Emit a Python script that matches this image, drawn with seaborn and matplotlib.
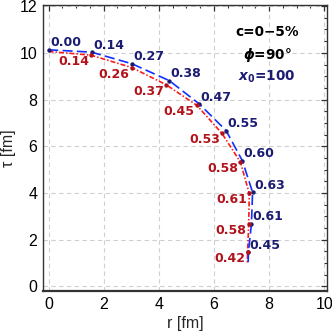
import matplotlib
matplotlib.use("Agg")
import matplotlib.pyplot as plt
import seaborn as sns
import pandas as pd
from matplotlib.ticker import MultipleLocator

# --- data ---
blue_r = [0.01, 1.56, 3.03, 4.38, 5.47, 6.44, 7.03, 7.40, 7.36, 7.25]
blue_tau = [10.13, 10.03, 9.53, 8.81, 7.81, 6.67, 5.38, 4.03, 2.69, 1.47]
blue_vals = ["0.00", "0.14", "0.27", "0.38", "0.47", "0.55", "0.60", "0.63", "0.61", "0.45"]

red_r = [1.54, 3.02, 4.26, 5.38, 6.29, 6.96, 7.28, 7.26, 7.22]
red_tau = [9.90, 9.37, 8.64, 7.75, 6.55, 5.32, 3.98, 2.69, 1.47]
red_vals = ["0.14", "0.26", "0.37", "0.45", "0.53", "0.58", "0.61", "0.58", "0.42"]

# freeze-out curves (markers plus curve ends)
blue_curve_r = [0.0] + blue_r + [7.24]
blue_curve_tau = [10.15] + blue_tau + [1.0]
red_curve_r = [0.0] + red_r + [7.21]
red_curve_tau = [10.06] + red_tau + [1.0]

NAVY = "#1b1b72"
DARKRED = "#b3121b"
LINE_BLUE = "#1030ff"
LINE_RED = "#ff1a1a"
BOLD = ["DejaVu Sans"]

sns.set_theme(style="white")
plt.rcParams["font.family"] = ["Liberation Sans", "DejaVu Sans"]
plt.rcParams["mathtext.fontset"] = "custom"
plt.rcParams["mathtext.it"] = "DejaVu Sans:italic:bold"
plt.rcParams["mathtext.rm"] = "DejaVu Sans:bold"
plt.rcParams["mathtext.bf"] = "DejaVu Sans:bold"

fig = plt.figure(figsize=(3.32, 3.32), dpi=100)
ax = fig.add_axes([0.1295, 0.1235, 0.8555, 0.8615])

blue_line = pd.DataFrame({"r": blue_curve_r, "tau": blue_curve_tau})
red_line = pd.DataFrame({"r": red_curve_r, "tau": red_curve_tau})
sns.lineplot(data=red_line, x="r", y="tau", sort=False, ax=ax, color=LINE_RED,
             lw=1.2, zorder=3).lines[-1].set_dashes((3.0, 1.2, 0.9, 1.2))
sns.lineplot(data=blue_line, x="r", y="tau", sort=False, ax=ax, color=LINE_BLUE,
             lw=1.2, zorder=3).lines[-1].set_dashes((6.0, 2.6))

sns.scatterplot(x=blue_r, y=blue_tau, ax=ax, color=NAVY, s=10, linewidth=0, zorder=4)
sns.scatterplot(x=red_r, y=red_tau, ax=ax, color=DARKRED, s=10, linewidth=0, zorder=4)

for r, t, v in zip(blue_r, blue_tau, blue_vals):
    ax.annotate(v, (r, t), xytext=(1, 2.5), textcoords="offset points",
                ha="left", va="baseline", color=NAVY, fontsize=9,
                family=BOLD, fontweight="bold", zorder=5)
for r, t, v in zip(red_r, red_tau, red_vals):
    ax.annotate(v, (r, t), xytext=(-1.5, 0), textcoords="offset points",
                ha="right", va="top", color=DARKRED, fontsize=9,
                family=BOLD, fontweight="bold", zorder=5)

ax.text(0.789, 0.906, "c=0\u22125%", transform=ax.transAxes, ha="center",
        va="center", fontsize=9.8, family=BOLD, fontweight="bold", color="black")
ax.text(0.789, 0.825, r"$\phi$=90°", transform=ax.transAxes, ha="center",
        va="center", fontsize=9.8, family=BOLD, fontweight="bold", color="black")
ax.text(0.789, 0.748, r"$x_0$=100", transform=ax.transAxes, ha="center",
        va="center", fontsize=9.8, family=BOLD, fontweight="bold", color=NAVY)

ax.set_xlim(-0.2, 10.1)
ax.set_ylim(-0.2, 12.05)
ax.xaxis.set_major_locator(MultipleLocator(2))
ax.yaxis.set_major_locator(MultipleLocator(2))
ax.xaxis.set_minor_locator(MultipleLocator(0.5))
ax.yaxis.set_minor_locator(MultipleLocator(0.5))
ax.tick_params(which="both", direction="in", top=True, right=True,
               colors="#333333", labelcolor="black")
ax.tick_params(which="major", length=4, width=0.9, labelsize=11.5, pad=4)
ax.tick_params(which="minor", length=2.3, width=0.8)
ax.grid(True, which="major", color="#cfcfcf", lw=0.8, ls=(0, (4, 3)))
for side in ["left", "right", "top", "bottom"]:
    ax.spines[side].set_color("#333333")
    ax.spines[side].set_linewidth(1.0)
ax.spines["bottom"].set_linewidth(1.6)

ax.set_xlabel("r [fm]", fontsize=11.5, labelpad=3)
ax.set_ylabel("\u03c4 [fm]", fontsize=11.5, labelpad=3)

plt.savefig("out.png", dpi=100)
